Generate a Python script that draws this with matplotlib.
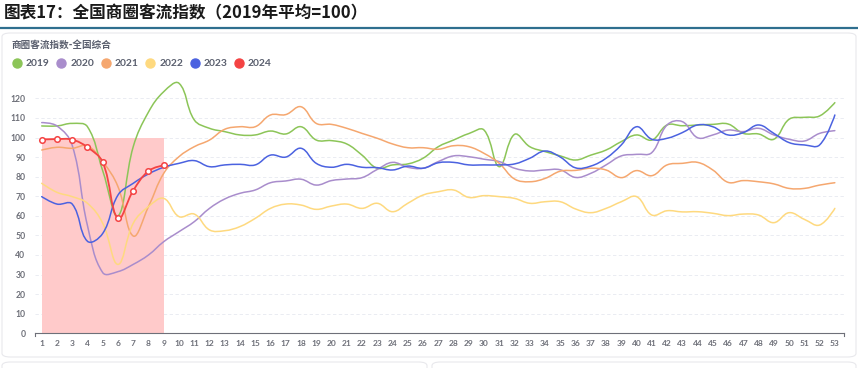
import numpy as np
import matplotlib
matplotlib.use('Agg')
import matplotlib.pyplot as plt
from matplotlib.path import Path
from matplotlib.patches import PathPatch, FancyBboxPatch
from matplotlib.lines import Line2D

plt.rcParams['font.family'] = ['Lato', 'Noto Sans CJK SC', 'DejaVu Sans']

# weekly index values, 2019 average = 100
weeks = list(range(1, 54))
s2019 = [105.9, 105.9, 107.2, 105.5, 83, 59.9, 95.3, 113, 123.4, 127.7,
         109, 104.7, 103, 101.3, 101.3, 103.3, 101.8, 105.5, 98.7, 98.4,
         96.7, 91, 84.3, 86, 86.5, 89.4, 95.3, 98.7, 102, 103.8,
         85.1, 101.6, 95.3, 92.8, 90.6, 88.5, 91, 93.6, 97.9, 101.3,
         98.7, 106.4, 106, 106.4, 106.7, 106.9, 102.1, 101.8, 99.1, 109.3,
         110.3, 111, 117.8]
s2020 = [107.6, 105.9, 96, 55, 31, 31.5, 35.2, 40, 46.8, 51.9,
         57, 63.8, 68.6, 71.5, 73.2, 76.9, 77.8, 78.7, 75.7, 78,
         78.8, 79.5, 83.7, 87.3, 84.8, 84.3, 87.7, 90.6, 90.2, 88.9,
         87.7, 84.3, 82.9, 83.4, 83.5, 79.6, 81.7, 86, 90.6, 91.4,
         92.3, 106.4, 108.1, 99.9, 101.3, 103.8, 103, 104.7, 101.3, 99.1,
         98.2, 102.1, 103.5]
s2021 = [93.6, 95, 94.5, 95.7, 87.7, 74.9, 49.7, 64.7, 81.7, 90.2,
         95.3, 98.7, 104.2, 105.5, 105.5, 111.5, 111.7, 115.7, 107.2, 106.7,
         104.7, 102.1, 99.6, 96.7, 94.8, 94.8, 94, 95.8, 95.3, 91.9,
         86.8, 78.8, 77.4, 79.1, 82.8, 83.2, 84.3, 83.4, 79.5, 83.1,
         80.5, 86, 86.8, 87.3, 83.4, 77.1, 78, 77.4, 76.3, 74,
         74, 75.7, 76.9]
s2022 = [76.6, 72, 69.8, 66.4, 56.2, 35.2, 56.2, 64.7, 68.9, 59.6,
         60.9, 52.8, 52.4, 54.5, 58.7, 63.8, 66, 65.5, 63.3, 65,
         66, 63.8, 66.4, 62.1, 66.4, 70.6, 72.3, 73.2, 69.4, 70.3,
         69.8, 68.9, 66.4, 67.2, 67.2, 63.5, 61.6, 63.8, 67.2, 69.8,
         60.4, 62.6, 62, 62.1, 61.3, 60.1, 60.9, 60.4, 56.5, 61.6,
         58.2, 55.3, 63.8]
s2023 = [69.8, 66, 66, 47, 51, 70.6, 76.6, 81.4, 84.8, 86.8,
         88.2, 85.1, 86, 86.3, 86, 91, 90, 94.5, 86.8, 84.8,
         86.3, 84.8, 84.6, 83.4, 85.4, 84.3, 87.1, 87.3, 86, 86,
         86, 86.5, 89.4, 93.1, 90, 84.5, 85.4, 89.4, 96.2, 105.5,
         99.1, 99.6, 102.5, 106.4, 105.5, 101.3, 102.5, 106.4, 102.1, 97.4,
         96.2, 96.2, 111.5]
s2024 = [98.9, 99.2, 98.9, 95, 87.3, 58.7, 72.9, 82.9, 85.8]
base_level = 100  # shaded block height for weeks of 2024

series = [('2019', s2019, '#8cc558'), ('2020', s2020, '#a98dcc'),
          ('2021', s2021, '#f5a76f'), ('2022', s2022, '#fed97f'),
          ('2023', s2023, '#4b62e0'), ('2024', s2024, '#f44343')]

FIG_W, FIG_H = 858, 368
fig = plt.figure(figsize=(FIG_W / 100, FIG_H / 100), dpi=100)

# title and rule
fig.text(4 / FIG_W, 1 - 13 / FIG_H, '图表17：全国商圈客流指数（2019年平均=100）',
         fontsize=12, fontweight='bold', color='#1a1a1a', va='center',
         family=['Noto Sans CJK SC', 'DejaVu Sans'])
fig.add_artist(Line2D([0, 1], [1 - 28 / FIG_H] * 2, color='#2f6f8f', lw=1.6))

# card backgrounds
fig.add_artist(FancyBboxPatch((2 / FIG_W, 1 - 357 / FIG_H), 854 / FIG_W, 324 / FIG_H,
                              boxstyle='round,pad=0,rounding_size=0.01',
                              fc='white', ec='#e8e8ec', lw=0.8, zorder=0))
fig.add_artist(FancyBboxPatch((2 / FIG_W, 1 - 380 / FIG_H), 425 / FIG_W, 18 / FIG_H,
                              boxstyle='round,pad=0,rounding_size=0.01',
                              fc='white', ec='#e8e8ec', lw=0.8, zorder=0))
fig.add_artist(FancyBboxPatch((432 / FIG_W, 1 - 380 / FIG_H), 424 / FIG_W, 18 / FIG_H,
                              boxstyle='round,pad=0,rounding_size=0.01',
                              fc='white', ec='#e8e8ec', lw=0.8, zorder=0))

fig.text(12 / FIG_W, 1 - 45 / FIG_H, '商圈客流指数-全国综合', fontsize=6.9,
         fontweight='bold', color='#5a5f6e', va='center',
         family=['Noto Sans CJK SC', 'DejaVu Sans'])

# legend
for i, (name, vals, col) in enumerate(series):
    x0 = 17 + i * 44.4
    fig.add_artist(Line2D([x0 / FIG_W], [1 - 63 / FIG_H], marker='o', ms=6.5,
                          color=col, mec=col, lw=0))
    fig.text((x0 + 9) / FIG_W, 1 - 63 / FIG_H, name, fontsize=7.4, fontweight='bold',
             color='#5a5f6e', va='center')

# plot area
x_lo, x_hi = 0.56, 53.6
y_top = 130
ax = fig.add_axes([35 / FIG_W, (FIG_H - 333.3) / FIG_H,
                   809 / FIG_W, (y_top * 1.958) / FIG_H])
ax.set_xlim(x_lo, x_hi)
ax.set_ylim(0, y_top)
ax.patch.set_alpha(0)

px_x, px_y = 15.25, 1.958  # pixels per data unit, for smoothing distances


def smooth_path(xs, ys, smooth=0.4):
    pts = np.column_stack([np.asarray(xs, float), np.asarray(ys, float)])
    n = len(pts)
    scale = np.array([px_x, px_y])
    cin = pts.copy()
    cout = pts.copy()
    for i in range(1, n - 1):
        prev, cur, nxt = pts[i - 1], pts[i], pts[i + 1]
        v = nxt - prev
        d0 = np.hypot(*((cur - prev) * scale))
        d1 = np.hypot(*((nxt - cur) * scale))
        r = d1 / (d0 + d1)
        cin[i] = cur - v * smooth * (1 - r)
        cout[i] = cur + v * smooth * r
    verts = [pts[0]]
    codes = [Path.MOVETO]
    for i in range(n - 1):
        verts += [cout[i], cin[i + 1], pts[i + 1]]
        codes += [Path.CURVE4] * 3
    return Path(verts, codes)


ax.fill_between(weeks[:len(s2024)], 0, base_level, color='#ffcaca', lw=0, zorder=1)

for name, vals, col in series:
    xs = weeks[:len(vals)]
    lw = 1.3 if name == '2024' else 1.1
    ax.add_patch(PathPatch(smooth_path(xs, vals), fill=False, ec=col, lw=lw, zorder=3,
                           capstyle='round', joinstyle='round'))
    if name == '2024':
        ax.plot(xs, vals, lw=0, marker='o', ms=4, mfc='white', mec=col, mew=1.1, zorder=4)

ax.set_yticks(range(0, 121, 10))
ax.set_xticks(weeks)
ax.set_xticklabels([str(w) for w in weeks])
ax.tick_params(axis='y', length=0, pad=7, labelsize=6.2, labelcolor='#6e7079')
ax.tick_params(axis='x', length=0, pad=5, labelsize=6.0, labelcolor='#6e7079')
for lab in ax.get_xticklabels() + ax.get_yticklabels():
    lab.set_fontweight('bold')
for v in range(10, 121, 10):
    ax.axhline(v, color='#e6e9f0', lw=0.6, ls=(0, (4, 3)), zorder=0)
for s in ['top', 'right', 'left']:
    ax.spines[s].set_visible(False)
ax.spines['bottom'].set_color('#6e7079')
ax.spines['bottom'].set_linewidth(0.8)
for xe in (x_lo, x_hi):
    ax.plot([xe, xe], [0, -1.6], color='#6e7079', lw=0.8, clip_on=False)

fig.savefig('out.png', dpi=100)
